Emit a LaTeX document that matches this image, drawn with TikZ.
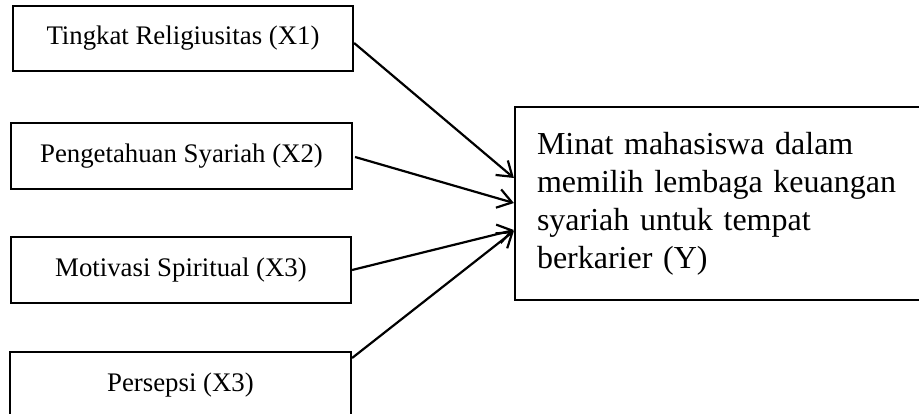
\documentclass[tikz,border=0pt]{standalone}
\usepackage{fontspec}
\setmainfont{Liberation Serif}
\usetikzlibrary{arrows.meta}
\tikzset{
  xbox/.style={draw, line width=2.2pt, minimum width=340pt, minimum height=65pt, inner sep=0pt,
    font=\fontsize{26.8}{31}\selectfont},
  ybox/.style={draw, line width=2.2pt, minimum width=410pt, minimum height=193pt, inner xsep=22pt,
    text width=366pt, align=left, font=\fontsize{32}{38}\selectfont},
  link/.style={line width=2.2pt, -{Straight Barb[length=14pt,width=19pt,line width=2.2pt]}}
}
\begin{document}
\begin{tikzpicture}[x=1pt,y=-1pt]
\useasboundingbox (0,0) rectangle (919,414);
\node[xbox] (x1) at (183,38.5) {Tingkat Religiusitas (X1)};
\node[xbox, minimum width=341pt, minimum height=66pt] (x2) at (181.5,156) {Pengetahuan Syariah (X2)};
\node[xbox, minimum height=66pt] (x3) at (181,270) {Motivasi Spiritual (X3)};
\node[xbox, minimum width=341pt, minimum height=66pt] (x4) at (180.5,385) {Persepsi (X3)};
\node[ybox] (y) at (720,203.5) {Minat mahasiswa dalam\\ memilih lembaga keuangan\\ syariah untuk tempat\\ berkarier (Y)};
\draw[link] ([yshift=-4.5pt]x1.east) -- ([yshift=25.5pt]y.west);
\draw[link] ([xshift=2pt,yshift=-1pt]x2.east) -- ([yshift=0.5pt]y.west);
\draw[link] (x3.east) -- ([yshift=-26.5pt]y.west);
\draw[link] ([yshift=27pt]x4.east) -- ([yshift=-27.5pt]y.west);
\end{tikzpicture}
\end{document}
